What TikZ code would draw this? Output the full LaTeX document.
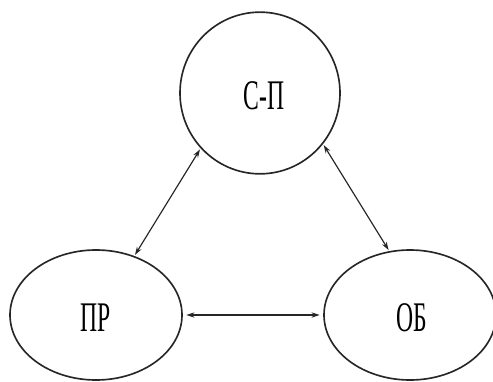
\documentclass[tikz,border=0pt]{standalone}
\usepackage{fontspec}
\setmainfont{Liberation Serif}
\usepackage{graphicx}
\usetikzlibrary{shapes.geometric,arrows.meta}
\newcommand{\narrow}[1]{\scalebox{0.56}[1]{#1}}
\begin{document}
\begin{tikzpicture}[font=\fontsize{36}{40}\selectfont]
    % Define styles
    \tikzset{
        part/.style={ellipse, draw=black!85, line width=1.4pt, inner sep=0pt},
        link/.style={{Stealth[length=7pt,width=4.5pt]}-{Stealth[length=7pt,width=4.5pt]}, draw=black!85, line width=1pt},
    }
    \useasboundingbox (0,0) rectangle (14.79,11.43);

    % Parts
    \node[part, minimum width=4.8cm, minimum height=4.85cm] (sp) at (7.8,8.64) {};
    \node[part, minimum width=5.16cm, minimum height=3.9cm] (pr) at (2.88,1.98) {};
    \node[part, minimum width=5.16cm, minimum height=3.9cm] (ob) at (12.3,1.98) {};

    % Labels
    \node (sptext) at (7.92,8.55) {\narrow{С-П}};
    \node (prtext) at (2.88,1.89) {\narrow{ПР}};
    \node (obtext) at (12.36,1.89) {\narrow{ОБ}};

    % Arrows
    \draw[link, shorten <=1pt, shorten >=1pt] (sp.223) -- (pr.57);
    \draw[link, shorten <=1pt, shorten >=1pt] (sp.321) -- (ob.108);
    \draw[link, line width=1.6pt, shorten <=3pt, shorten >=3pt] (pr.east) -- (ob.west);
\end{tikzpicture}
\end{document}
